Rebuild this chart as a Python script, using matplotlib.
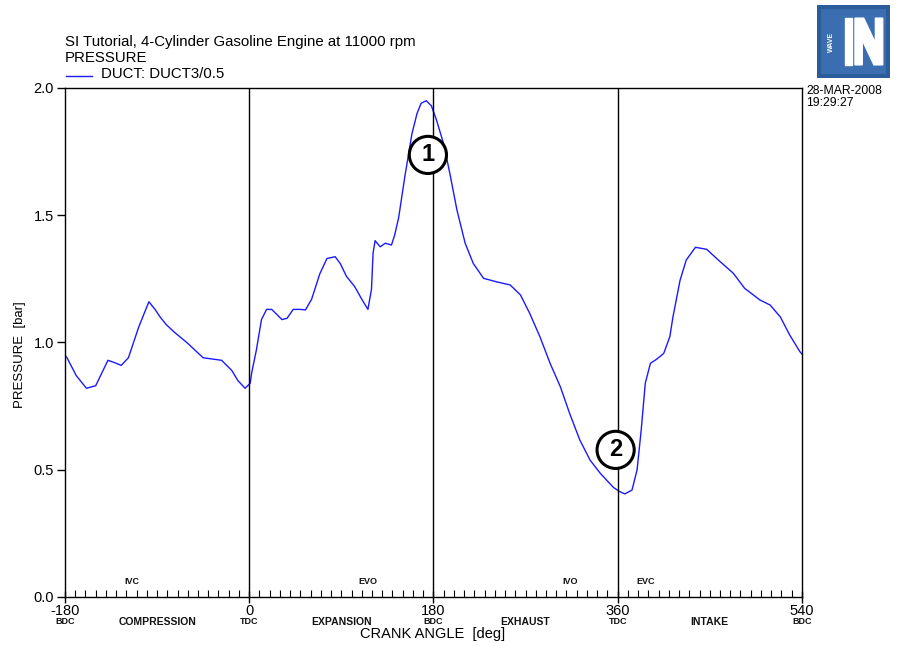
#!/usr/bin/env python3
import numpy as np
from matplotlib import pyplot as plt
from matplotlib.patches import Rectangle, Polygon

# begin DATA
crank_angle = [-180, -178, -169, -159, -150, -138, -131, -125, -118, -108,
               -98, -92, -87, -81, -73, -61, -45, -27, -17, -11, -4, 1,
               2.4, 7, 12, 17, 22, 27, 32, 37, 43, 50, 55, 61, 69, 76, 84,
               89, 95, 103, 110, 116, 119.5, 121, 123, 128, 133, 139, 142,
               146, 152, 159, 164, 168, 173, 178, 183, 190, 196, 203, 211,
               219, 229, 242, 255, 265, 274, 284, 294, 304, 313, 323, 333,
               343, 352, 356, 362, 367, 374, 379, 383, 387, 392, 398, 405,
               411, 414, 421, 427, 436, 447, 460, 473, 484, 499, 509, 519,
               528, 538, 540]
pressure = [0.95, 0.94, 0.87, 0.82, 0.83, 0.93, 0.92, 0.91, 0.94, 1.06,
            1.16, 1.13, 1.10, 1.07, 1.04, 1.00, 0.94, 0.93, 0.89, 0.85,
            0.82, 0.84, 0.88, 0.97, 1.09, 1.13, 1.13, 1.11, 1.09, 1.095,
            1.13, 1.13, 1.128, 1.17, 1.27, 1.33, 1.337, 1.31, 1.26, 1.22,
            1.17, 1.13, 1.21, 1.35, 1.40, 1.376, 1.39, 1.383, 1.42, 1.49,
            1.65, 1.82, 1.90, 1.94, 1.95, 1.93, 1.874, 1.78, 1.665, 1.52,
            1.39, 1.31, 1.252, 1.238, 1.226, 1.187, 1.115, 1.023, 0.918,
            0.826, 0.722, 0.617, 0.538, 0.486, 0.447, 0.43, 0.414, 0.405,
            0.42, 0.50, 0.656, 0.84, 0.918, 0.934, 0.957, 1.023, 1.10,
            1.245, 1.324, 1.374, 1.366, 1.318, 1.272, 1.213, 1.167, 1.147,
            1.10, 1.03, 0.964, 0.955]
major_ticks = [-180, 0, 180, 360, 540]
dead_centres = ['BDC', 'TDC', 'BDC', 'TDC', 'BDC']
strokes = ['COMPRESSION', 'EXPANSION', 'EXHAUST', 'INTAKE']
stroke_centres = [-90, 90, 270, 450]
valve_events = ['IVC', 'EVO', 'IVO', 'EVC']
valve_angles = [-115, 116, 314, 387]
markers = ['1', '2']
marker_pos = [(174.6, 1.737), (358, 0.578)]
# end DATA

plt.rcParams['font.family'] = ['Liberation Sans', 'DejaVu Sans']

fig = plt.figure(figsize=(9.01, 6.46), dpi=100)
ax = fig.add_axes([0.0721, 0.0759, 0.8179, 0.7879])

ax.plot(crank_angle, pressure, color='#1a1aff', lw=1.0)
for x in major_ticks[1:-1]:
    ax.axvline(x, color='black', lw=1.0)

ax.set_xlim(-180, 540)
ax.set_ylim(0, 2.0)

ax.set_yticks([0.0, 0.5, 1.0, 1.5, 2.0])
ax.set_yticklabels(['0.0', '0.5', '1.0', '1.5', '2.0'], fontsize=10.5)
ax.tick_params(axis='y', direction='out', length=6, width=1, pad=2)

ax.set_xticks(major_ticks)
ax.set_xticklabels([str(t) for t in major_ticks], fontsize=10.5)
ax.set_xticks(np.arange(-180, 541, 10), minor=True)
ax.tick_params(axis='x', which='major', direction='inout', length=8,
               width=1, pad=1)
ax.tick_params(axis='x', which='minor', direction='in', length=5, width=0.8)

for sp in ax.spines.values():
    sp.set_linewidth(1.0)

# sub-labels under the axis
trans = ax.get_xaxis_transform()
for x, lab in zip(major_ticks, dead_centres):
    ax.text(x, -0.049, lab, transform=trans, ha='center', va='center',
            fontsize=6.5, fontweight='bold', color='#111111')
for x, lab in zip(stroke_centres, strokes):
    ax.text(x, -0.049, lab, transform=trans, ha='center', va='center',
            fontsize=7.5, fontweight='bold', color='#111111')
for x, lab in zip(valve_angles, valve_events):
    ax.text(x, 0.0295, lab, transform=trans, ha='center', va='center',
            fontsize=6.5, fontweight='bold', color='#111111')

fig.text(433 / 901, 1 - 634 / 646, 'CRANK ANGLE  [deg]', fontsize=10.5,
         ha='center', va='center')
fig.text(20 / 901, 1 - 355 / 646, 'PRESSURE  [bar]', fontsize=9.5,
         ha='center', va='center', rotation=90)

# numbered markers
for lab, (mx, my) in zip(markers, marker_pos):
    ax.text(mx, my, lab, ha='center', va='center', fontsize=17,
            fontweight='bold', zorder=5,
            bbox=dict(boxstyle='circle,pad=0.3', fc='white', ec='black',
                      lw=2.2))

# header texts
fig.text(65 / 901, 1 - 42 / 646,
         'SI Tutorial, 4-Cylinder Gasoline Engine at 11000 rpm',
         fontsize=10.8, va='center')
fig.text(65 / 901, 1 - 57.5 / 646, 'PRESSURE', fontsize=10.8, va='center')
fig.lines.append(plt.Line2D([66 / 901, 92 / 901], [1 - 76 / 646, 1 - 76 / 646],
                            color='#1a1aff', lw=1.0, transform=fig.transFigure))
fig.text(101 / 901, 1 - 74.5 / 646, 'DUCT: DUCT3/0.5', fontsize=10.8,
         va='center')
fig.text(806 / 901, 1 - 91 / 646, '28-MAR-2008', fontsize=8.8, va='center')
fig.text(806 / 901, 1 - 103 / 646, '19:29:27', fontsize=8.8, va='center')

# logo
logo = fig.add_axes([817 / 901, 1 - 78 / 646, 73 / 901, 73 / 646])
logo.set_xlim(0, 1)
logo.set_ylim(0, 1)
logo.axis('off')
logo.add_patch(Rectangle((0, 0), 1, 1, color='#2a5d99'))
logo.add_patch(Rectangle((0.06, 0.06), 0.88, 0.88, fc='#3a6eb0', ec='none'))
logo.add_patch(Polygon([(0.38, 0.18), (0.38, 0.82), (0.48, 0.82),
                        (0.48, 0.18)], color='white'))
logo.add_patch(Polygon([(0.52, 0.18), (0.52, 0.82), (0.64, 0.82), (0.80, 0.48),
                        (0.80, 0.82), (0.90, 0.82), (0.90, 0.18), (0.78, 0.18),
                        (0.62, 0.52), (0.62, 0.18)], color='white'))
logo.text(0.2, 0.5, 'WAVE', rotation=90, color='white', fontsize=5,
          fontweight='bold', ha='center', va='center')

fig.savefig('out.png', dpi=100)
